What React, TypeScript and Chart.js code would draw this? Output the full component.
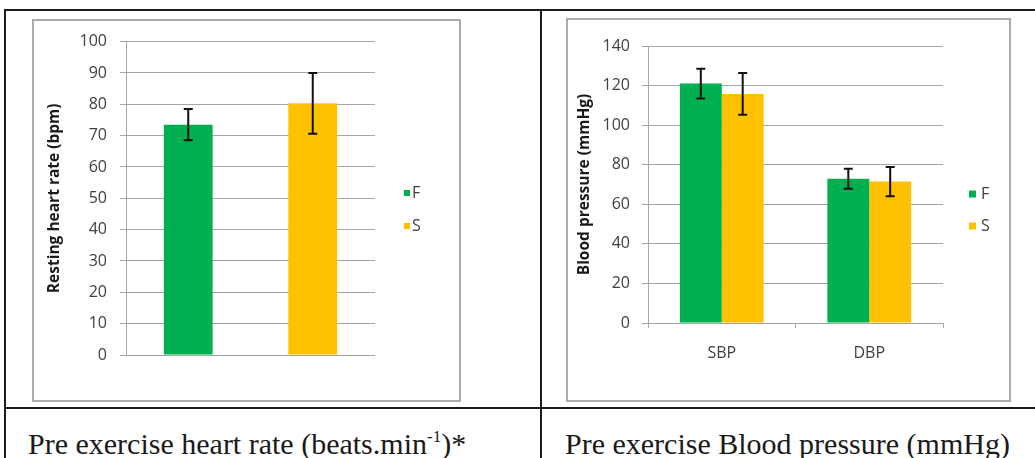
import React, { useEffect, useRef } from 'react';
import { Chart, registerables } from 'chart.js';

Chart.register(...registerables);

// ---------- data ----------
const hrCategories = ['F', 'S'];
const hrMeans = [73.5, 80.3];
const hrErrors = [5.0, 9.7];
const hrAxisTitle = 'Resting heart rate (bpm)';
const hrTickMin = 0;
const hrTickMax = 100;
const hrTickStep = 10;

const bpCategories = ['SBP', 'DBP'];
const bpSeriesNames = ['F', 'S'];
const bpF = [121.0, 72.9];
const bpFErr = [7.5, 5.0];
const bpS = [115.8, 71.5];
const bpSErr = [10.5, 7.4];
const bpAxisTitle = 'Blood pressure (mmHg)';
const bpTickMin = 0;
const bpTickMax = 140;
const bpTickStep = 20;

const seriesColors = ['#00b050', '#ffc000'];

// ---------- styles ----------
const FONT = '"Open Sans", "Liberation Sans", sans-serif';
const GRID = '#a6a6a6';
const TICK_COLOR = '#404040';

const errorBarPlugin = {
  id: 'errorBars',
  afterDatasetsDraw(chart: any) {
    const ctx = chart.ctx;
    const yScale = chart.scales.y;
    ctx.save();
    ctx.strokeStyle = '#111111';
    ctx.lineWidth = 2;
    chart.data.datasets.forEach((ds: any, i: number) => {
      const meta = chart.getDatasetMeta(i);
      const errs = ds.errors || [];
      meta.data.forEach((el: any, j: number) => {
        const v = ds.data[j];
        const e = errs[j];
        if (v == null || e == null) return;
        const x = el.x;
        const yt = yScale.getPixelForValue(v + e);
        const yb = yScale.getPixelForValue(v - e);
        const c = 4.5;
        ctx.beginPath();
        ctx.moveTo(x, yt);
        ctx.lineTo(x, yb);
        ctx.moveTo(x - c, yt);
        ctx.lineTo(x + c, yt);
        ctx.moveTo(x - c, yb);
        ctx.lineTo(x + c, yb);
        ctx.stroke();
      });
    });
    ctx.restore();
  },
};

const sideLegendPlugin = {
  id: 'sideLegend',
  afterDraw(chart: any, _args: any, opts: any) {
    const { ctx, chartArea } = chart;
    const items = chart.data.datasets;
    const n = items.length;
    const x0 = chartArea.right + opts.offsetX;
    const cy = chart.height / 2 + (opts.offsetY || 0);
    ctx.save();
    ctx.font = `16px ${FONT}`;
    ctx.textBaseline = 'middle';
    ctx.textAlign = 'left';
    items.forEach((ds: any, i: number) => {
      const y = cy + (i - (n - 1) / 2) * opts.spacing;
      ctx.fillStyle = ds.backgroundColor;
      ctx.fillRect(x0, y - opts.box / 2, opts.box, opts.box);
      ctx.fillStyle = TICK_COLOR;
      ctx.fillText(ds.label, x0 + opts.box + opts.gap, y);
    });
    ctx.restore();
  },
};

function yScaleConfig(min: number, max: number, step: number, title: string, width: number, pad: number) {
  return {
    min,
    max,
    ticks: { stepSize: step, color: TICK_COLOR, font: { family: FONT, size: 16 }, padding: pad },
    grid: { color: GRID, tickLength: 6, drawTicks: true, lineWidth: 1 },
    border: { display: true, color: GRID },
    title: {
      display: true,
      text: title,
      color: '#1a1a1a',
      font: { family: FONT, size: 15.5, weight: 'bold' },
      padding: { top: 7, bottom: 0 },
    },
    afterFit: (s: any) => {
      s.width = width;
    },
  };
}

function makeHrConfig(): any {
  const datasets = hrCategories.map((name, i) => ({
    label: name,
    data: hrCategories.map((_, j) => (j === i ? hrMeans[i] : null)),
    errors: hrCategories.map((_, j) => (j === i ? hrErrors[i] : null)),
    backgroundColor: seriesColors[i],
    borderWidth: 0,
    grouped: false,
    barPercentage: 1,
    categoryPercentage: 0.392,
  }));
  return {
    type: 'bar',
    data: { labels: hrCategories, datasets },
    options: {
      responsive: false,
      animation: false,
      layout: { padding: { left: 6, right: 86, top: 22.5, bottom: 47 } },
      plugins: {
        legend: { display: false },
        tooltip: { enabled: false },
        sideLegend: { offsetX: 29, offsetY: -1, spacing: 33, box: 6, gap: 2 },
      },
      scales: {
        x: { display: false },
        y: yScaleConfig(hrTickMin, hrTickMax, hrTickStep, hrAxisTitle, 88, 13),
      },
    },
    plugins: [errorBarPlugin, sideLegendPlugin],
  };
}

function makeBpConfig(): any {
  const values = [bpF, bpS];
  const errs = [bpFErr, bpSErr];
  const datasets = bpSeriesNames.map((name, i) => ({
    label: name,
    data: values[i],
    errors: errs[i],
    backgroundColor: seriesColors[i],
    borderWidth: 0,
    barPercentage: 1,
    categoryPercentage: 0.568,
  }));
  return {
    type: 'bar',
    data: { labels: bpCategories, datasets },
    options: {
      responsive: false,
      animation: false,
      layout: { padding: { left: 1, right: 68, top: 28, bottom: 34 } },
      plugins: {
        legend: { display: false },
        tooltip: { enabled: false },
        sideLegend: { offsetX: 26, offsetY: 0, spacing: 32, box: 7, gap: 5 },
      },
      scales: {
        x: {
          ticks: { color: TICK_COLOR, font: { family: FONT, size: 16 }, padding: 16 },
          grid: { display: true, drawOnChartArea: false, drawTicks: true, tickLength: 5, color: GRID, offset: true },
          border: { display: true, color: GRID },
          afterFit: (s: any) => {
            s.height = 45;
          },
        },
        y: yScaleConfig(bpTickMin, bpTickMax, bpTickStep, bpAxisTitle, 80, 12),
      },
    },
    plugins: [errorBarPlugin, sideLegendPlugin],
  };
}

function ChartCanvas(props: { make: () => any; left: number; top: number; width: number; height: number }) {
  const ref = useRef<HTMLCanvasElement>(null);
  useEffect(() => {
    const chart = new Chart(ref.current as HTMLCanvasElement, props.make());
    return () => chart.destroy();
  }, []);
  return (
    <canvas
      ref={ref}
      width={props.width}
      height={props.height}
      style={{ position: 'absolute', left: props.left, top: props.top, width: props.width, height: props.height }}
    />
  );
}

const line = (left: number, top: number, width: number, height: number) => (
  <div style={{ position: 'absolute', left, top, width, height, background: '#1c1c1c' }} />
);

const box = (left: number, top: number, width: number, height: number) => (
  <div
    style={{
      position: 'absolute',
      left,
      top,
      width,
      height,
      border: '2px solid #ababab',
      boxSizing: 'border-box',
    }}
  />
);

const captionStyle: React.CSSProperties = {
  position: 'absolute',
  top: 429,
  fontFamily: '"Liberation Serif", "Times New Roman", serif',
  fontSize: 30,
  lineHeight: '30px',
  color: '#1a1a1a',
  whiteSpace: 'nowrap',
};

const supStyle: React.CSSProperties = {
  fontSize: 17,
  position: 'relative',
  top: -12,
  lineHeight: '0px',
};

export default function App() {
  return (
    <div
      style={{
        position: 'absolute',
        left: 0,
        top: 0,
        width: 1035,
        height: 458,
        background: '#ffffff',
        overflow: 'hidden',
      }}
    >
      {line(4, 9, 1031, 2)}
      {line(4, 9, 2, 449)}
      {line(540, 9, 2, 449)}
      {line(4, 407, 1031, 2)}
      {box(32, 19, 429, 383)}
      {box(566, 18, 445, 384)}
      <ChartCanvas make={makeHrConfig} left={32} top={19} width={429} height={383} />
      <ChartCanvas make={makeBpConfig} left={567} top={18} width={444} height={384} />
      <div style={{ ...captionStyle, left: 28 }}>
        Pre exercise heart rate (beats.min<span style={supStyle}>-1</span>)*
      </div>
      <div style={{ ...captionStyle, left: 565 }}>Pre exercise Blood pressure (mmHg)</div>
    </div>
  );
}
